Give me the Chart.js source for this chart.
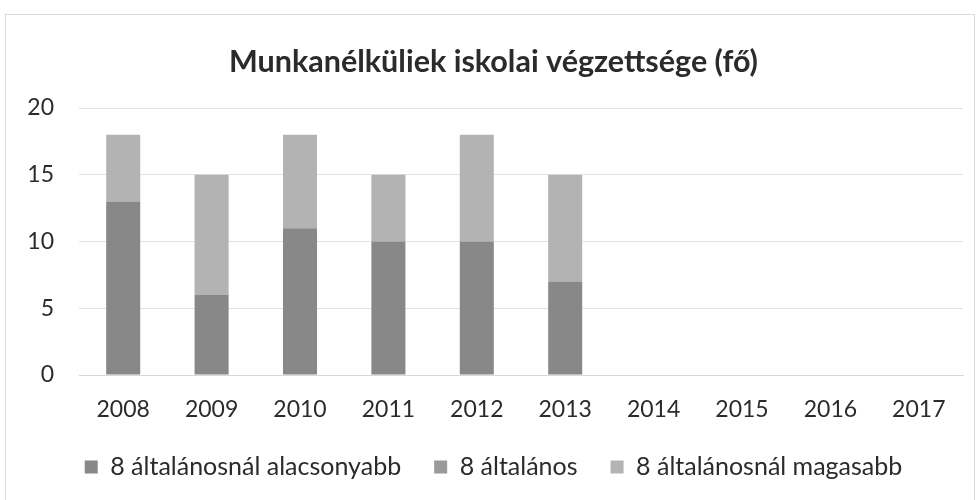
<!DOCTYPE html>
<html>
<head>
<meta charset="utf-8">
<script src="https://cdn.jsdelivr.net/npm/chart.js@4.4.1/dist/chart.umd.min.js"></script>
<style>
  html, body { margin: 0; padding: 0; background: #fff; }
  #wrap { position: relative; width: 980px; height: 500px; }
  #frame { position: absolute; left: 5px; top: 14px; width: 968px; height: 490px; border: 1px solid #dadada; }
  canvas { position: absolute; left: 0; top: 0; }
</style>
</head>
<body>
<div id="wrap">
  <div id="frame"></div>
  <canvas id="grafico" width="980" height="500"></canvas>
</div>
<script>
// datos del grafico
const evek = ['2008', '2009', '2010', '2011', '2012', '2013', '2014', '2015', '2016', '2017'];
const alacsonyabb = [13, 6, 11, 10, 10, 7, null, null, null, null];
const altalanos = [0, 0, 0, 0, 0, 0, null, null, null, null];
const magasabb = [5, 9, 7, 5, 8, 8, null, null, null, null];
const yTicks = [0, 5, 10, 15, 20];

const betu = 'Lato, "Open Sans", sans-serif';

const config = {
    type: 'bar',
    data: {
        labels: evek,
        datasets: [{
            label: '8 általánosnál alacsonyabb',
            data: alacsonyabb,
            backgroundColor: '#888888'
        }, {
            label: '8 általános',
            data: altalanos,
            backgroundColor: '#9a9a9a'
        }, {
            label: '8 általánosnál magasabb',
            data: magasabb,
            backgroundColor: '#b3b3b3'
        }]
    },
    options: {
        responsive: false,
        animation: false,
        layout: { padding: { left: 24, right: 17, top: 0, bottom: 10.5 } },
        datasets: { bar: { barPercentage: 0.77, categoryPercentage: 0.5 } },
        plugins: {
            title: {
                display: true,
                text: 'Munkanélküliek iskolai végzettsége (fő)',
                color: '#2b2b2b',
                font: { family: betu, size: 30.5, weight: 'bold' },
                padding: { top: 43.7, bottom: 27.7 }
            },
            legend: {
                position: 'bottom',
                labels: {
                    color: '#2b2b2b',
                    font: { family: betu, size: 25 },
                    boxWidth: 13,
                    boxHeight: 13,
                    padding: 33
                }
            },
            tooltip: { enabled: false }
        },
        scales: {
            x: {
                stacked: true,
                afterFit: function(s) { s.height = 46.5; },
                grid: { display: false },
                border: { color: '#d8d8d8' },
                ticks: { color: '#2b2b2b', font: { family: betu, size: 23 }, padding: 13 }
            },
            y: {
                stacked: true,
                min: 0,
                max: 20,
                afterFit: function(s) { s.width = 55; },
                afterBuildTicks: function(s) { s.ticks = yTicks.map(v => ({ value: v })); },
                grid: { color: '#e3e3e3', drawTicks: false },
                border: { display: false },
                ticks: { color: '#2b2b2b', font: { family: betu, size: 23 }, padding: 25 }
            }
        }
    }
};

new Chart(document.getElementById('grafico'), config);
</script>
</body>
</html>
